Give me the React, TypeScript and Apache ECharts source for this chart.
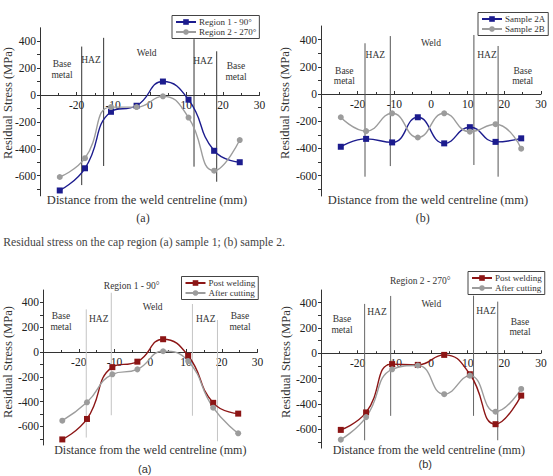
import React, { useEffect, useRef } from "react";
import * as echarts from "echarts";

// ---------- data ----------
const xPositions = [-24.6, -17.7, -10.6, -3.6, 3.6, 10.6, 17.6, 24.6];

const aRegion1 = [-710, -545, -125, -80, 100, -35, -415, -500];
const aRegion2 = [-610, -470, -90, -90, -10, -168, -563, -335];

const bSample2A = [-388, -330, -356, -171, -363, -244, -352, -326];
const bSample2B = [-171, -273, -142, -320, -142, -277, -222, -402];

const cPostWelding = [-705, -540, -122, -78, 103, -30, -410, -497];
const cAfterCutting = [-554, -406, -180, -140, 6, -73, -449, -656];

const dPostWelding = [-606, -468, -86, -92, -13, -166, -561, -335];
const dAfterCutting = [-683, -505, -127, -97, -324, -177, -462, -282];

// zone boundary lines: x, top, bottom (MPa)
const aBoundX = [-18.6, -12.6, 12.1, 18.3];
const aBoundTop = [360, 425, 415, 325];
const aBoundBottom = [-670, -528, -533, -645];
const bBoundX = [-18.0, -11.1, 11.7, 18.3];
const bBoundTop = [373, 426, 434, 353];
const bBoundBottom = [-608, -530, -522, -608];
const cBoundX = [-17.9, -10.9, 11.8, 18.8];
const cBoundTop = [344, 478, 387, 258];
const cBoundBottom = [-690, -510, -514, -720];
const dBoundX = [-18.1, -11.0, 11.6, 18.2];
const dBoundTop = [390, 453, 455, 408];
const dBoundBottom = [-688, -495, -495, -688];

const yLabelValues = [-600, -400, -200, 0, 200, 400];
const yTickValues = [-700, -600, -500, -400, -300, -200, -100, 0, 100, 200, 300, 400];

const NAVY = "#1c1c8e";
const GRAY = "#9c9c9c";
const RED = "#8c1515";
const SERIF = "Liberation Serif";
const SANS = "Liberation Sans";

const grids = [
  { left: 40, top: 27.75, width: 219.5, height: 168.1 },
  { left: 321, top: 26, width: 220, height: 170 },
  { left: 43, top: 290, width: 214.5, height: 155 },
  { left: 321, top: 290, width: 220, height: 158.1 },
];

function txt(x: number, y: number, text: string, size: number, extra: any = {}) {
  return {
    type: "text",
    x,
    y,
    silent: true,
    rotation: extra.rotation || 0,
    style: {
      text,
      fill: extra.color || "#333",
      fontSize: size,
      fontFamily: extra.font || SERIF,
      align: extra.align || "center",
      verticalAlign: "middle",
      textAlign: extra.align || "center",
      textVerticalAlign: "middle",
    },
  };
}

function zoneTexts(p: number[][]) {
  const out: any[] = [];
  out.push(txt(p[0][0], p[0][1], "Base", 9.5));
  out.push(txt(p[0][0], p[0][1] + 10.5, "metal", 9.5));
  out.push(txt(p[1][0], p[1][1], "HAZ", 9.5));
  out.push(txt(p[2][0], p[2][1], "Weld", 9.5));
  out.push(txt(p[3][0], p[3][1], "HAZ", 9.5));
  out.push(txt(p[4][0], p[4][1], "Base", 9.5));
  out.push(txt(p[4][0], p[4][1] + 10.5, "metal", 9.5));
  return out;
}

function boundarySeries(idx: number, xs: number[], tops: number[], bottoms: number[], color: string) {
  return xs.map((x, i) => ({
    type: "line",
    name: "boundary",
    xAxisIndex: idx,
    yAxisIndex: idx,
    data: [
      [x, tops[i]],
      [x, bottoms[i]],
    ],
    symbol: "none",
    silent: true,
    clip: false,
    z: 1,
    lineStyle: { color, width: 1 },
  }));
}

function dataSeries(idx: number, name: string, values: number[], color: string, symbol: string) {
  return {
    type: "line",
    name,
    xAxisIndex: idx,
    yAxisIndex: idx,
    data: xPositions.map((x, i) => [x, values[i]]),
    smooth: 0.5,
    clip: false,
    symbol,
    symbolSize: 6,
    z: 3,
    lineStyle: { color, width: 1.4 },
    itemStyle: { color },
  };
}

function legendAt(left: number, top: number, names: string[]) {
  return {
    left,
    top,
    orient: "vertical",
    data: names,
    itemWidth: 20,
    itemHeight: 7,
    itemGap: 1,
    padding: [2, 3, 2, 3],
    borderColor: "#444",
    borderWidth: 1,
    selectedMode: false,
    textStyle: { fontSize: 9, fontFamily: SERIF, color: "#333", padding: [0, 0, 0, -2] },
  };
}

export default function App() {
  const ref = useRef<HTMLDivElement>(null);
  useEffect(() => {
    if (!ref.current) return;
    const chart = echarts.init(ref.current, null, { renderer: "svg" });

    const xAxes = grids.map((g, i) => ({
      type: "value",
      gridIndex: i,
      min: -30,
      max: 30,
      interval: 10,
      position: "bottom",
      offset: -0.6 * g.height,
      axisLine: { show: true, onZero: false, lineStyle: { color: "#333", width: 1 } },
      axisTick: { show: true, inside: true, length: 3, lineStyle: { color: "#333" } },
      minorTick: { show: true, splitNumber: 2, length: 2, lineStyle: { color: "#333" } },
      axisLabel: {
        showMinLabel: false,
        margin: 4,
        fontSize: 11.5,
        fontFamily: SERIF,
        color: "#222",
      },
      splitLine: { show: false },
    }));

    const yAxes = grids.map((_, i) => ({
      type: "value",
      gridIndex: i,
      min: -750,
      max: 500,
      axisLine: { show: true, onZero: false, lineStyle: { color: "#333", width: 1 } },
      axisTick: { show: true, length: 3, customValues: yTickValues, lineStyle: { color: "#333" } },
      axisLabel: {
        customValues: yLabelValues,
        margin: 4,
        fontSize: 11.5,
        fontFamily: SERIF,
        color: "#222",
      },
      splitLine: { show: false },
    }));

    const series: any[] = [
      ...boundarySeries(0, aBoundX, aBoundTop, aBoundBottom, "#333"),
      ...boundarySeries(1, bBoundX, bBoundTop, bBoundBottom, "#555"),
      ...boundarySeries(2, cBoundX, cBoundTop, cBoundBottom, "#c4c4c4"),
      ...boundarySeries(3, dBoundX, dBoundTop, dBoundBottom, "#666"),
      dataSeries(0, "Region 1 - 90°", aRegion1, NAVY, "rect"),
      dataSeries(0, "Region 2 - 270°", aRegion2, GRAY, "circle"),
      dataSeries(1, "Sample 2A", bSample2A, NAVY, "rect"),
      dataSeries(1, "Sample 2B", bSample2B, GRAY, "circle"),
      dataSeries(2, "Post welding", cPostWelding, RED, "rect"),
      dataSeries(2, "After cutting", cAfterCutting, GRAY, "circle"),
      dataSeries(3, "Post welding", dPostWelding, RED, "rect"),
      dataSeries(3, "After cutting", dAfterCutting, GRAY, "circle"),
    ];

    const xName = "Distance from the weld centreline (mm)";
    const yName = "Residual Stress (MPa)";

    const graphics: any[] = [
      ...zoneTexts([[62, 64], [91, 60], [146.7, 52.7], [203, 61], [236, 66]]),
      txt(147, 200, xName, 12.5),
      txt(143, 218, "(a)", 12),
      txt(8, 103, yName, 12.5, { rotation: Math.PI / 2 }),
      ...zoneTexts([[344.3, 70.7], [375.3, 55], [431, 43.3], [487, 55], [522.7, 70.7]]),
      txt(428, 200, xName, 12.5),
      txt(422.7, 218.3, "(b)", 12),
      txt(285, 103, yName, 12.5, { rotation: Math.PI / 2 }),
      txt(285, 242, "Residual stress on the cap region (a) sample 1; (b) sample 2.", 11.7, {
        align: "right",
        color: "#444",
      }),
      txt(131.7, 286, "Region 1 - 90°", 9.5),
      ...zoneTexts([[61, 316], [98.7, 319.3], [152.7, 306.7], [205.7, 319.3], [240, 316]]),
      txt(150.3, 450, xName, 12),
      txt(144.7, 469, "(a)", 11, { font: SANS }),
      txt(8, 362, yName, 12.5, { rotation: Math.PI / 2 }),
      txt(420.3, 280.7, "Region 2 - 270°", 9.5),
      ...zoneTexts([[342, 319], [377, 311.7], [431.3, 304.3], [486, 311], [520, 321.7]]),
      txt(428.8, 450, xName, 12),
      txt(425.3, 463.5, "(b)", 11, { font: SANS }),
      txt(286, 362, yName, 12.5, { rotation: Math.PI / 2 }),
    ];

    chart.setOption({
      animation: false,
      backgroundColor: "#fff",
      textStyle: { fontFamily: SERIF },
      grid: grids.map((g) => ({ ...g, containLabel: false })),
      xAxis: xAxes,
      yAxis: yAxes,
      legend: [
        legendAt(172, 15.5, ["Region 1 - 90°", "Region 2 - 270°"]),
        legendAt(478, 12.5, ["Sample 2A", "Sample 2B"]),
        legendAt(181.5, 276.5, ["Post welding", "After cutting"]),
        legendAt(468, 271.5, ["Post welding", "After cutting"]),
      ],
      series,
      graphic: graphics,
    });
    return () => chart.dispose();
  }, []);

  return (
    <div
      ref={ref}
      style={{ position: "fixed", left: 0, top: 0, width: 553, height: 476, background: "#fff" }}
    />
  );
}
